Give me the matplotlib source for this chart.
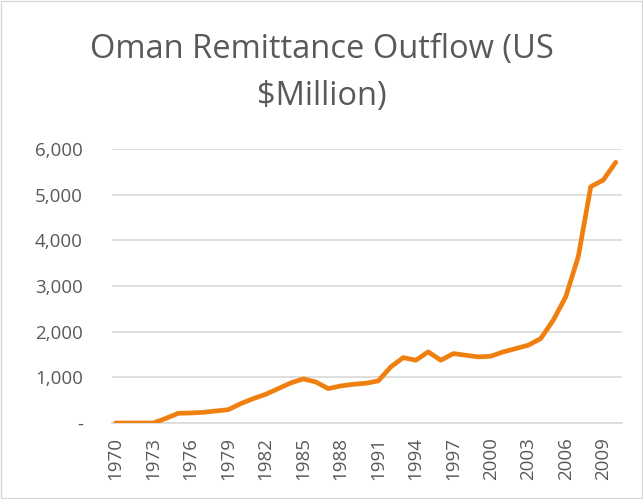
import matplotlib.pyplot as plt
import numpy as np

# Oman remittance outflow, US$ million
years = list(range(1970, 2011))
outflow = [0, 0, 0, 0, 100, 212, 220, 234, 263, 292,
           424, 534, 629, 753, 877, 965, 899, 753, 811, 848,
           870, 921, 1228, 1433, 1374, 1557, 1374, 1520, 1484, 1447,
           1462, 1557, 1630, 1703, 1849, 2251, 2763, 3640, 5175, 5321,
           5709]
tick_years = list(range(1970, 2010, 3))
y_ticks = [0, 1000, 2000, 3000, 4000, 5000, 6000]
y_labels = ['-', '1,000', '2,000', '3,000', '4,000', '5,000', '6,000']

plt.rcParams['font.family'] = ['Open Sans', 'DejaVu Sans']
grey = '#595959'

fig = plt.figure(figsize=(6.43, 4.99), dpi=100)
ax = fig.add_axes([112 / 643, 1 - 423 / 499, 510 / 643, 274 / 499])

ax.plot(years, outflow, color='#ef8010', linewidth=3.4, solid_capstyle='round',
        solid_joinstyle='round', zorder=3)

ax.set_ylim(0, 6000)
ax.set_xlim(1969.7, 2010.5)
ax.set_yticks(y_ticks)
ax.set_yticklabels(y_labels)
ax.set_xticks(tick_years)
ax.set_xticklabels([str(y) for y in tick_years], rotation=90)
ax.tick_params(axis='both', length=0, labelsize=13.5, labelcolor=grey)
ax.tick_params(axis='y', pad=21)
ax.tick_params(axis='x', pad=10)

ax.grid(axis='y', color='#d9d9d9', linewidth=1.2)
ax.set_axisbelow(True)
for s in ['top', 'right', 'left']:
    ax.spines[s].set_visible(False)
ax.spines['bottom'].set_color('#d9d9d9')
ax.spines['bottom'].set_linewidth(1.2)

fig.text(0.5, 0.853, 'Oman Remittance Outflow (US\n$Million)', ha='center', va='center',
         fontsize=23.5, color=grey, linespacing=1.55)

# thin frame around the chart area
fig.patches.append(plt.Rectangle((0.002, 0.002), 0.996, 0.996, transform=fig.transFigure,
                                 fill=False, edgecolor='#d9d9d9', linewidth=1))

fig.savefig('out.png', dpi=100)
